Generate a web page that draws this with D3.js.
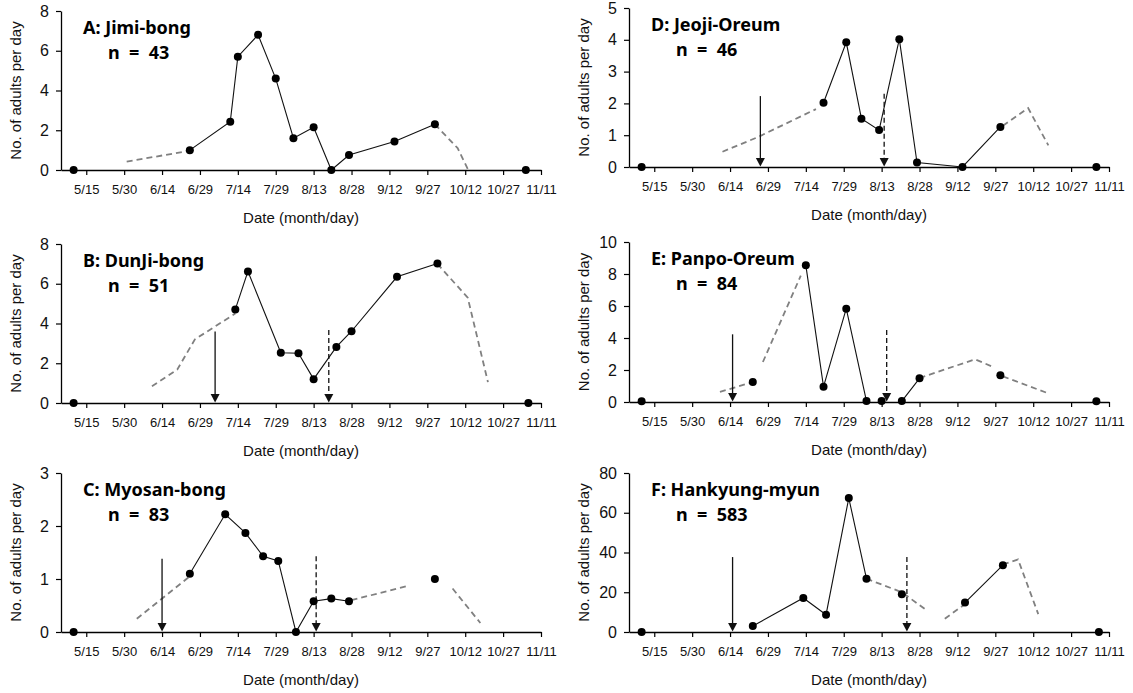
<!DOCTYPE html>
<html>
<head>
<meta charset="utf-8">
<script src="https://cdn.jsdelivr.net/npm/d3@7"></script>
<style>
  body { margin: 0; background: #fff; }
  svg { display: block; }
</style>
</head>
<body>
<svg id="chart" width="1133" height="693"></svg>
<script>
// tick labels on the date axis
const dateTicks = ["5/15","5/30","6/14","6/29","7/14","7/29","8/13","8/28","9/12","9/27","10/12","10/27","11/11"];
const dateStart = "5/5", dateEnd = "11/11";

const panelTitles = ["A: Jimi-bong", "B: DunJi-bong", "C: Myosan-bong", "D: Jeoji-Oreum", "E: Panpo-Oreum", "F: Hankyung-myun"];
const panelCounts = [43, 51, 83, 46, 84, 583];
const yMaxes = [8, 8, 3, 5, 10, 80];
const yTickSteps = [2, 2, 1, 1, 2, 20];

// observed adults per day, null breaks the solid line
const jimiObs = [["5/10",0], null, ["6/25",1.0],["7/11",2.43],["7/14",5.7],["7/22",6.8],["7/29",4.6],["8/5",1.6],["8/13",2.15],["8/20",0],["8/27",0.75],["9/14",1.43],["9/30",2.3], null, ["11/5",0]];
const dunjiObs = [["5/10",0], null, ["7/13",4.71],["7/18",6.62],["7/31",2.53],["8/7",2.5],["8/13",1.2],["8/22",2.82],["8/28",3.61],["9/15",6.35],["10/1",7.02], null, ["11/6",0]];
const myosanObs = [["5/10",0], null, ["6/25",1.1],["7/9",2.22],["7/17",1.87],["7/24",1.43],["7/30",1.34],["8/6",0],["8/13",0.58],["8/20",0.63],["8/27",0.58], null, ["9/30",1.0]];
const jeojiObs = [["5/10",0], null, ["7/21",2.02],["7/30",3.92],["8/5",1.52],["8/12",1.16],["8/20",4.02],["8/27",0.14],["9/14",0],["9/29",1.26], null, ["11/6",0]];
const panpoObs = [["5/10",0.05], null, ["6/23",1.25], null, ["7/14",8.54],["7/21",0.96],["7/30",5.83],["8/7",0.06], null, ["8/13",0.06], null, ["8/21",0.06],["8/28",1.48], null, ["9/29",1.67], null, ["11/6",0.05]];
const hankyungObs = [["5/10",0], null, ["6/23",3],["7/13",17.1],["7/22",8.7],["7/31",67.4],["8/7",26.8], null, ["8/21",19], null, ["9/15",14.8],["9/30",33.6], null, ["11/7",0]];

// dashed (estimated) curves, null breaks
const jimiDash = [["5/31",0.42],["6/24",0.95], null, ["9/30",2.3],["10/9",1.1],["10/13",0.05]];
const dunjiDash = [["6/10",0.84],["6/20",1.68],["6/27",3.2],["7/5",3.85],["7/13",4.5], null, ["10/1",7.0],["10/13",5.3],["10/21",1.05]];
const myosanDash = [["6/4",0.25],["6/25",1.05], null, ["8/28",0.6],["9/20",0.88], null, ["10/7",0.82],["10/18",0.17]];
const jeojiDash = [["6/11",0.48],["6/25",0.94],["7/18",1.82], null, ["9/30",1.3],["10/10",1.85],["10/18",0.68]];
const panpoDash = [["6/10",0.63],["6/22",1.2], null, ["6/27",2.5],["7/12",7.9], null, ["8/28",1.5],["9/19",2.67],["9/26",2.2], null, ["9/30",1.6],["10/18",0.54]];
const hankyungDash = [["8/7",26.8],["8/21",20],["8/30",11.7], null, ["9/7",6.7],["9/15",14], null, ["9/30",34],["10/6",36.5],["10/14",9]];

// arrows: [date, height]
const jimiArrows = [], jimiDashArrows = [];
const dunjiArrows = [["7/5",3.6]], dunjiDashArrows = [["8/19",3.67]];
const myosanArrows = [["6/14",1.38]], myosanDashArrows = [["8/14",1.43]];
const jeojiArrows = [["6/26",2.23]], jeojiDashArrows = [["8/14",2.3]];
const panpoArrows = [["6/15",4.23]], panpoDashArrows = [["8/15",4.5]];
const hankyungArrows = [["6/15",37.7]], hankyungDashArrows = [["8/23",37.7]];

const obsList = [jimiObs, dunjiObs, myosanObs, jeojiObs, panpoObs, hankyungObs];
const dashList = [jimiDash, dunjiDash, myosanDash, jeojiDash, panpoDash, hankyungDash];
const arrowList = [jimiArrows, dunjiArrows, myosanArrows, jeojiArrows, panpoArrows, hankyungArrows];
const dashArrowList = [jimiDashArrows, dunjiDashArrows, myosanDashArrows, jeojiDashArrows, panpoDashArrows, hankyungDashArrows];

// panel frames: left x, top y, bottom y
const frames = [[61,11,170],[61,244,403],[61,473,632],[629,8,167],[629,242,402],[629,473,632]];
const plotW = 480;

const parse = d3.timeParse("%m/%d");
const svg = d3.select("#chart");
const axisFont = "'Liberation Sans', Arial, sans-serif";

function drawPanel(i) {
  const [left, top, bottom] = frames[i];
  const g = svg.append("g");

  const x = d3.scaleTime().domain([parse(dateStart), parse(dateEnd)]).range([left, left + plotW]);
  const y = d3.scaleLinear().domain([0, yMaxes[i]]).range([bottom, top]);

  const xAxis = g.append("g")
    .attr("transform", "translate(0," + bottom + ")")
    .call(d3.axisBottom(x).tickValues(dateTicks.map(parse)).tickFormat(d3.timeFormat("%-m/%-d")).tickSize(5).tickSizeOuter(0));
  xAxis.selectAll("text").attr("y", 15).attr("font-size", 13).attr("font-family", axisFont).attr("fill", "#111");

  const yAxis = g.append("g")
    .attr("transform", "translate(" + left + ",0)")
    .call(d3.axisLeft(y).tickValues(d3.range(0, yMaxes[i] + 0.001, yTickSteps[i])).tickFormat(d3.format("d")).tickSize(5).tickSizeOuter(0));
  yAxis.selectAll("text").attr("x", -12).attr("font-size", 16).attr("font-family", axisFont).attr("fill", "#111");

  [xAxis, yAxis].forEach(a => {
    a.select(".domain").attr("stroke", "#000").attr("stroke-width", 1.3);
    a.selectAll(".tick line").attr("stroke", "#000").attr("stroke-width", 1.2);
  });

  // axis titles
  g.append("text")
    .attr("x", left + plotW / 2).attr("y", bottom + 53)
    .attr("text-anchor", "middle")
    .attr("font-family", axisFont).attr("font-size", 15).attr("fill", "#111")
    .text("Date (month/day)");

  g.append("text")
    .attr("transform", "translate(" + (left - 40) + "," + ((top + bottom) / 2) + ") rotate(-90)")
    .attr("text-anchor", "middle")
    .attr("font-family", axisFont).attr("font-size", 15).attr("fill", "#111")
    .text("No. of adults per day");

  // panel title
  g.append("text")
    .attr("x", left + 22).attr("y", top + 23)
    .attr("font-family", "'Noto Sans', sans-serif").attr("font-weight", "bold").attr("font-size", 18)
    .text(panelTitles[i]);
  g.append("text")
    .attr("x", left + 47).attr("y", top + 48)
    .attr("font-family", "'Noto Sans', sans-serif").attr("font-weight", "bold").attr("font-size", 18)
    .attr("xml:space", "preserve")
    .text("n  =  " + panelCounts[i]);

  const line = d3.line()
    .defined(d => d !== null)
    .x(d => x(parse(d[0])))
    .y(d => y(d[1]));

  // estimated dashed curves
  g.append("path")
    .attr("d", line(dashList[i]))
    .attr("fill", "none")
    .attr("stroke", "#808080")
    .attr("stroke-width", 1.8)
    .attr("stroke-dasharray", "6,4");

  // observed solid line
  g.append("path")
    .attr("d", line(obsList[i]))
    .attr("fill", "none")
    .attr("stroke", "#111")
    .attr("stroke-width", 1.1);

  // arrows
  function arrow(d, dashed) {
    const ax = x(parse(d[0]));
    const y0 = y(0);
    g.append("line")
      .attr("x1", ax).attr("x2", ax)
      .attr("y1", y(d[1])).attr("y2", y0 - 7)
      .attr("stroke", "#111")
      .attr("stroke-width", 1.3)
      .attr("stroke-dasharray", dashed ? "5,3" : null);
    g.append("path")
      .attr("d", "M" + (ax - 4.5) + "," + (y0 - 9) + "L" + (ax + 4.5) + "," + (y0 - 9) + "L" + ax + "," + (y0 - 0.5) + "Z")
      .attr("fill", "#111");
  }
  arrowList[i].forEach(d => arrow(d, false));
  dashArrowList[i].forEach(d => arrow(d, true));

  // markers
  g.selectAll("circle.obs")
    .data(obsList[i].filter(d => d !== null))
    .join("circle")
    .attr("class", "obs")
    .attr("cx", d => x(parse(d[0])))
    .attr("cy", d => y(d[1]))
    .attr("r", 4)
    .attr("fill", "#000");
}

for (let i = 0; i < 6; i++) drawPanel(i);
</script>
</body>
</html>
